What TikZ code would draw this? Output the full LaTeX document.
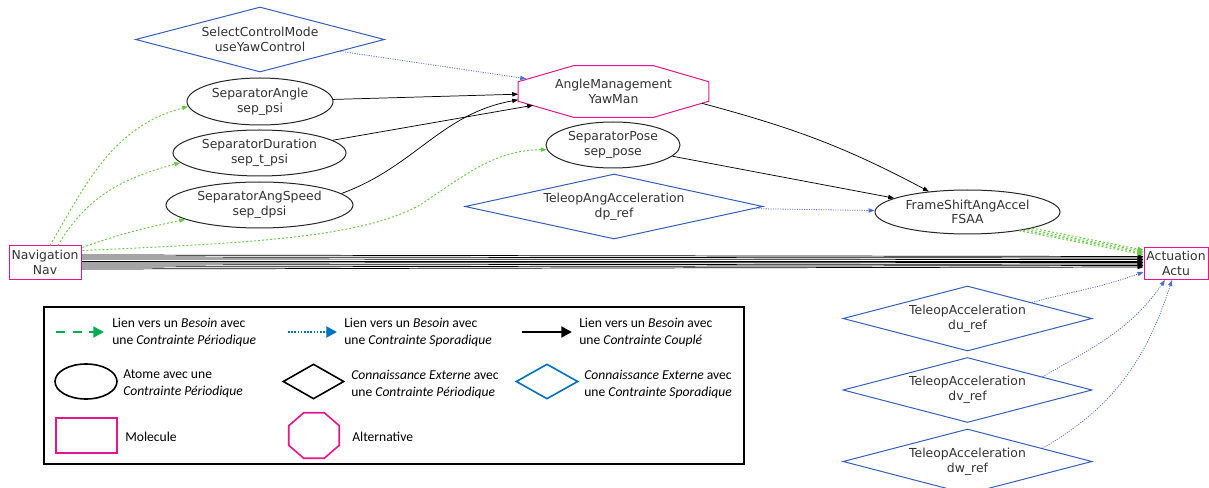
\documentclass[tikz,border=0pt]{standalone}
\usepackage{fontspec}
\setmainfont{DejaVu Sans}
\newfontfamily\legfont{Carlito}
\usetikzlibrary{shapes.geometric,arrows.meta,calc}
\definecolor{molpink}{RGB}{232,20,140}
\definecolor{knowblue}{RGB}{52,94,190}
\definecolor{sporblue}{RGB}{80,110,205}
\definecolor{pergreen}{RGB}{105,200,70}
\definecolor{legblue}{RGB}{0,112,192}
\definecolor{leggreen}{RGB}{0,176,80}
\definecolor{txtgray}{RGB}{50,50,50}

% octagone autour d'un noeud : #1 style, #2 noeud, #3 coupe en x, #4 coupe en y
\newcommand{\octogone}[4]{%
  \draw[#1] ($(#2.north west)+(#3,0)$) -- ($(#2.north east)+(-#3,0)$)
    -- ($(#2.north east)+(0,#4)$) -- ($(#2.south east)+(0,-#4)$)
    -- ($(#2.south east)+(-#3,0)$) -- ($(#2.south west)+(#3,0)$)
    -- ($(#2.south west)+(0,-#4)$) -- ($(#2.north west)+(0,#4)$) -- cycle;}

\begin{document}
\begin{tikzpicture}[x=0.75pt,y=-0.75pt,
  every node/.style={font=\fontsize{9.3}{11}\selectfont, text=txtgray, align=center},
  atome/.style={ellipse, draw=black!85, line width=0.75pt, inner sep=0pt},
  connext/.style={diamond, draw=knowblue, line width=0.75pt, inner sep=0pt},
  molecule/.style={rectangle, draw=molpink, line width=0.75pt, inner sep=0pt},
  alternative/.style={rectangle, inner sep=0pt},
  headtip/.style={-{Triangle[length=4.5pt,width=3.2pt]}},
  couple/.style={headtip, draw=black, line width=0.55pt},
  sporadic/.style={headtip, draw=sporblue, line width=0.6pt, dash pattern=on 0.8pt off 1pt},
  periodic/.style={headtip, draw=pergreen, line width=0.7pt, dash pattern=on 1.5pt off 1.5pt},
  legtext/.style={font=\legfont\fontsize{10.2}{12.75}\selectfont, text=black, align=left, anchor=west, inner sep=0pt}
]
\useasboundingbox (0,0) rectangle (1209,488);

\node[connext, aspect=3.83, minimum width=186.75pt, minimum height=48.75pt] (scm) at (260,39.5) {SelectControlMode\\useYawControl};
\node[atome, minimum width=109.5pt, minimum height=35.25pt] (sepangle) at (260,101.5) {SeparatorAngle\\sep\_psi};
\node[atome, minimum width=129.75pt, minimum height=34.5pt] (sepdur) at (259.5,153) {SeparatorDuration\\sep\_t\_psi};
\node[atome, minimum width=140.25pt, minimum height=34.5pt] (sepspeed) at (259.5,205) {SeparatorAngSpeed\\sep\_dpsi};
\node[alternative, minimum width=142.5pt, minimum height=38.25pt] (yawman) at (613.5,91.5) {AngleManagement\\YawMan};
\octogone{molpink, line width=0.75pt}{yawman}{55}{16}
\node[atome, minimum width=100.5pt, minimum height=34.5pt] (seppose) at (613,145) {SeparatorPose\\sep\_pose};
\node[connext, aspect=4.58, minimum width=223.5pt, minimum height=48.75pt] (angacc) at (614,206.5) {TeleopAngAcceleration\\dp\_ref};
\node[atome, minimum width=138.75pt, minimum height=33pt] (fsaa) at (967.5,212) {FrameShiftAngAccel\\FSAA};
\node[molecule, minimum width=54pt, minimum height=24.75pt] (nav) at (45,262.5) {Navigation\\Nav};
\node[molecule, minimum width=48pt, minimum height=24pt] (actu) at (1176,263.5) {Actuation\\Actu};
\node[connext, aspect=3.83, minimum width=186.75pt, minimum height=48.75pt] (duref) at (967.5,318.5) {TeleopAcceleration\\du\_ref};
\node[connext, aspect=3.83, minimum width=186.75pt, minimum height=48.75pt] (dvref) at (967.5,390) {TeleopAcceleration\\dv\_ref};
\node[connext, aspect=3.83, minimum width=186.75pt, minimum height=48.75pt] (dwref) at (967.5,461.5) {TeleopAcceleration\\dw\_ref};

\draw[sporadic] (scm) -- ($(yawman.north west)+(8,13)$);
\draw[couple] (sepangle) -- (yawman);
\draw[couple] (sepdur) -- ($(yawman.south west)+(15,-12)$);
\draw[couple] (sepspeed.8) to[out=20,in=190] (yawman.185);
\draw[couple] ($(yawman.south east)+(-7,-14)$) to[out=-15,in=152] (fsaa.152);
\draw[couple] (seppose) -- (fsaa);
\draw[sporadic] (angacc) -- (fsaa);

\foreach \i in {0,...,7}
  \draw[couple] ($(nav.east)+(0,-7.5+2*\i)$) -- ($(actu.west)+(0,-7+1.5*\i)$);
\foreach \a/\s in {-14/-13.5,-16/-12,-18/-10.5,-20/-9}
  \draw[periodic] (fsaa.\a) -- ($(actu.west)+(0,\s)$);

\draw[sporadic] (duref.14) to[out=15,in=200] ($(actu.west)+(0,8.5)$);
\draw[sporadic] (dvref.10) to[out=30,in=-125] ($(actu.south)+(-11,0)$);
\draw[sporadic] (dwref.10) to[out=30,in=-108] ($(actu.south)+(-4,0)$);

\draw[periodic] ($(nav.north)+(5,0)$) to[out=60,in=195] (sepangle.184);
\draw[periodic] ($(nav.north)+(13,0)$) to[out=60,in=195] (sepdur.187);
\draw[periodic] ($(nav.north east)+(1,2)$) to[out=20,in=192] (sepspeed.191);
\draw[periodic] ($(nav.north east)+(1,5)$) .. controls (250,243) and (360,238) .. (420,205)
  .. controls (465,175) and (495,150) .. (seppose.184);

% legende
\draw[line width=1.1pt] (44,307) rectangle (744,464);
\coordinate (kpa) at (56,332);  \coordinate (kpb) at (104,332);
\coordinate (ksa) at (288,332); \coordinate (ksb) at (337,332);
\coordinate (kca) at (522,332); \coordinate (kcb) at (572,332);
\draw[leggreen, line width=2pt, dash pattern=on 7pt off 5.5pt, -{Triangle[length=8pt,width=8pt]}] (kpa) -- (kpb);
\draw[legblue, line width=2pt, dash pattern=on 1.2pt off 1.2pt, -{Triangle[length=8pt,width=8pt]}] (ksa) -- (ksb);
\draw[black, line width=2pt, -{Triangle[length=8pt,width=8pt]}] (kca) -- (kcb);
\node[legtext] (lper) at (112,332.5) {Lien vers un \emph{Besoin} avec\\une \emph{Contrainte Périodique}};
\node[legtext] (lspor) at (344,332.5) {Lien vers un \emph{Besoin} avec\\une \emph{Contrainte Sporadique}};
\node[legtext] (lcoup) at (579,332.5) {Lien vers un \emph{Besoin} avec\\une \emph{Contrainte Couplé}};

\node[ellipse, draw=black, line width=1.2pt, minimum width=46.5pt, minimum height=26.25pt, inner sep=0pt] (katome) at (86,381.5) {};
\node[diamond, aspect=1.74, draw=black, line width=1.2pt, minimum width=45.75pt, minimum height=26.25pt, inner sep=0pt] (kperext) at (313.5,381.5) {};
\node[diamond, aspect=1.74, draw=legblue, line width=1.2pt, minimum width=46.5pt, minimum height=26.25pt, inner sep=0pt] (ksporext) at (547,381.5) {};
\node[legtext] (latome) at (123,384) {Atome avec une\\\emph{Contrainte Périodique}};
\node[legtext] (lperext) at (351,384) {\emph{Connaissance Externe} avec\\une \emph{Contrainte Périodique}};
\node[legtext] (lsporext) at (584,384) {\emph{Connaissance Externe} avec\\une \emph{Contrainte Sporadique}};

\node[rectangle, draw=molpink, line width=1.2pt, minimum width=45.75pt, minimum height=26.25pt, inner sep=0pt] (kmol) at (86.5,435.5) {};
\node[alternative, minimum width=37.5pt, minimum height=33.75pt] (kalt) at (314,435.5) {};
\octogone{molpink, line width=1.2pt}{kalt}{15}{13}
\node[legtext] (lmol) at (125,437) {Molecule};
\node[legtext] (lalt) at (352,437) {Alternative};
\end{tikzpicture}
\end{document}
